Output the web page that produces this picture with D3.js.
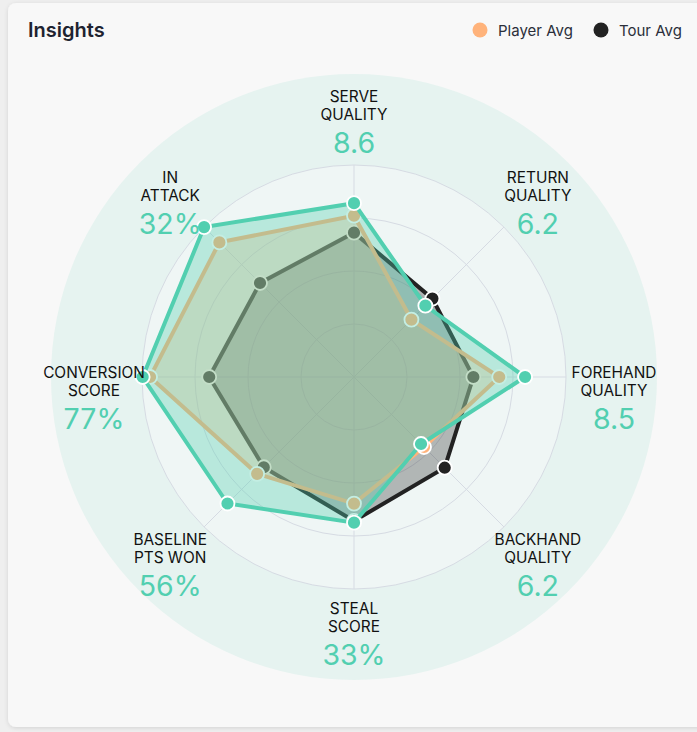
<!DOCTYPE html>
<html><head><meta charset="utf-8">
<script src="https://cdn.jsdelivr.net/npm/d3@7"></script>
<style>
html,body{margin:0;padding:0;background:#efefef;overflow:hidden;}
svg{display:block;font-family:Inter, "Noto Sans", sans-serif;}
</style></head><body>
<svg id="chart" width="697" height="732"></svg>
<script>
// ---- data ----
const axisLines = [["SERVE","QUALITY"],["RETURN","QUALITY"],["FOREHAND","QUALITY"],["BACKHAND","QUALITY"],["STEAL","SCORE"],["BASELINE","PTS WON"],["CONVERSION","SCORE"],["IN","ATTACK"]];
const displayValues = ["8.6","6.2","8.5","6.2","33%","56%","77%","32%"];
const playerValues    = [82.0, 47.6, 80.7, 44.7, 68.7, 84.4, 99.7, 100];
const playerAvgValues = [76.1, 38.3, 68.5, 46.7, 59.7, 64.6, 96.2, 89.8];
const tourAvgValues   = [68.1, 52.3, 56.3, 60.5, 67.9, 60.2, 68.3, 62.7];
const ringTicks = [25, 50, 75, 100];
const legendNames = ["Player Avg", "Tour Avg"];
const legendColors = ["#ffb37b", "#222222"];

// ---- layout ----
const W = 697, H = 732;
const cx = 354, cy = 377, rMax = 212, rOuter = 303;
const svg = d3.select("#chart");
const defs = svg.append("defs");
const f = defs.append("filter").attr("id","sh").attr("x","-5%").attr("y","-5%").attr("width","110%").attr("height","110%");
f.append("feDropShadow").attr("dx",0).attr("dy",1).attr("stdDeviation",2).attr("flood-color","#000").attr("flood-opacity",0.12);

svg.append("rect").attr("x",8).attr("y",3).attr("width",W+20).attr("height",724).attr("rx",8)
  .attr("fill","#f8f8f8").attr("filter","url(#sh)");

svg.append("text").attr("x",28).attr("y",37).attr("font-size",20).attr("font-weight",600)
  .attr("fill","#1e2330").text("Insights");

// legend
const lg = svg.append("g");
const legX = [480, 601];
legendNames.forEach((n,i)=>{
  lg.append("circle").attr("cx",legX[i]).attr("cy",30).attr("r",7.5).attr("fill",legendColors[i]);
  lg.append("text").attr("x",legX[i]+18).attr("y",35.5).attr("font-size",15).attr("fill","#2b2f3a").text(n);
});

const n = axisLines.length;
const angle = d3.scaleLinear().domain([0, n]).range([0, 2*Math.PI]);
const r = d3.scaleLinear().domain([0, 100]).range([0, rMax]);

const g = svg.append("g").attr("transform",`translate(${cx},${cy})`);
g.append("circle").attr("r",rOuter).attr("fill","#e6f3f0");
g.append("circle").attr("r",rMax).attr("fill","#eff6f5");

// rings
g.selectAll("circle.ring").data(ringTicks).join("circle").attr("class","ring")
  .attr("r",d=>r(d)).attr("fill","none").attr("stroke","#d6dbe3").attr("stroke-width",1);
// spokes
g.selectAll("line.spoke").data(d3.range(n)).join("line").attr("class","spoke")
  .attr("x1",0).attr("y1",0)
  .attr("x2",i=>r(100)*Math.sin(angle(i))).attr("y2",i=>-r(100)*Math.cos(angle(i)))
  .attr("stroke","#d6dbe3").attr("stroke-width",1);

const radial = d3.lineRadial().angle((d,i)=>angle(i)).radius(d=>r(d)).curve(d3.curveLinearClosed);

const series = [
  {vals: tourAvgValues, color:"#222222", fill:"#222222", op:0.3},
  {vals: playerAvgValues, color:"#ffb37b", fill:"#ffb37b", op:0.33},
  {vals: playerValues, color:"#52cfb0", fill:"#52cfb0", op:0.35}
];
series.forEach(s=>{
  const sg = g.append("g");
  sg.append("path").attr("d",radial(s.vals)).attr("fill",s.fill).attr("fill-opacity",s.op)
    .attr("stroke",s.color).attr("stroke-width",4).attr("stroke-linejoin","miter");
  sg.selectAll("circle").data(s.vals).join("circle")
    .attr("cx",(d,i)=>r(d)*Math.sin(angle(i))).attr("cy",(d,i)=>-r(d)*Math.cos(angle(i)))
    .attr("r",7).attr("fill",s.color).attr("stroke","#ffffff").attr("stroke-width",1.8);
});

// labels
axisLines.forEach((lines,i)=>{
  const a = angle(i);
  const c = Math.cos(a), sn = Math.sin(a);
  const x = 260*sn, y = -256*c + 20*(1-Math.abs(c));
  const lgp = g.append("g").attr("transform",`translate(${x},${y})`).attr("text-anchor","middle");
  lines.forEach((t,k)=>{
    lgp.append("text").attr("y",-24.5+18*k).attr("dominant-baseline","central")
      .attr("font-size",15.4).attr("fill","#111111").text(t);
  });
  lgp.append("text").attr("y",21.5).attr("dominant-baseline","central")
    .attr("font-size",28.5).attr("fill","#52cfb0").text(displayValues[i]);
});
</script>
</body></html>
